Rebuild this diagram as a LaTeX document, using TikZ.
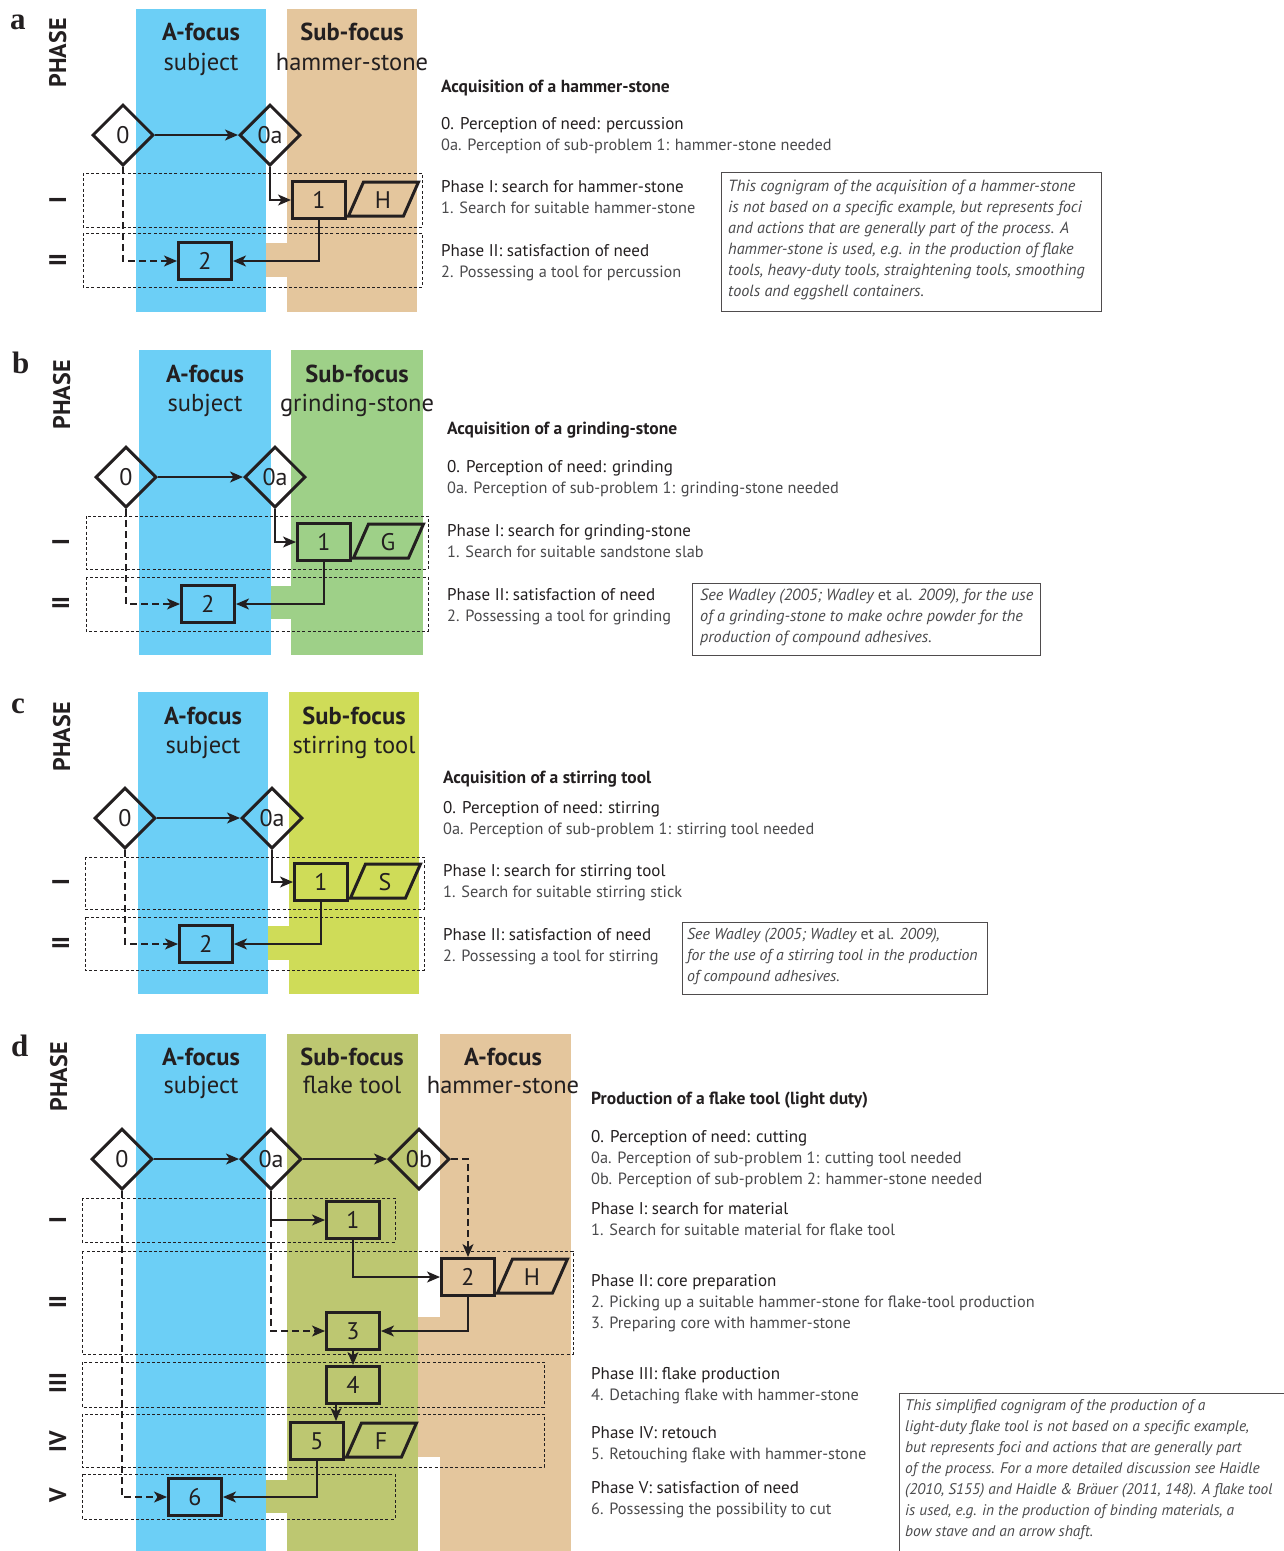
\documentclass[tikz,border=0pt]{standalone}
\usepackage{fontspec}
\setmainfont{PT Sans}
\newfontfamily\lettfont{Liberation Serif}
\usetikzlibrary{shapes.geometric,arrows.meta,calc}

\definecolor{ink}{HTML}{231F20}
\definecolor{cblue}{HTML}{6CCFF6}
\definecolor{ctan}{HTML}{E4C69D}
\definecolor{cgreen}{HTML}{9ED088}
\definecolor{cyellow}{HTML}{CFDC58}
\definecolor{colive}{HTML}{BDC771}
\definecolor{txtgray}{HTML}{4A4A4C}

\tikzset{
  stepbox/.style={draw=ink, line width=3pt, rectangle, minimum width=53pt, minimum height=37pt,
    inner sep=0pt, font=\fontsize{24}{24}\selectfont, text=ink},
  decis/.style={draw=ink, line width=3pt, diamond, minimum width=61pt, minimum height=61pt,
    inner sep=0pt, font=\fontsize{24}{24}\selectfont, text=ink},
  conn/.style={draw=ink, line width=1.6pt, -{Stealth[length=13pt,width=11pt,inset=3.5pt]}},
  dconn/.style={conn, dash pattern=on 7pt off 4pt},
  phasebox/.style={draw=ink, line width=1pt, dash pattern=on 3pt off 2.2pt},
  paraline/.style={draw=ink, line width=3pt},
  paratext/.style={inner sep=0pt, font=\fontsize{24}{24}\selectfont, text=ink},
  ttl/.style={anchor=base west, inner sep=0pt, font=\fontsize{17.5}{21}\selectfont\bfseries, text=ink},
  phl/.style={anchor=base west, inner sep=0pt, font=\fontsize{17}{21}\selectfont, text=ink},
  dtl/.style={anchor=base west, inner sep=0pt, font=\fontsize{16.3}{21}\selectfont, text=txtgray},
  hdb/.style={anchor=base, inner sep=0pt, font=\fontsize{24.5}{24}\selectfont\bfseries, text=ink},
  hdr/.style={anchor=base, inner sep=0pt, font=\fontsize{24.5}{24}\selectfont, text=ink},
  phase/.style={rotate=90, anchor=base, inner sep=0pt, font=\fontsize{24}{24}\selectfont\bfseries, text=ink},
  plabel/.style={anchor=base west, inner sep=0pt, font=\lettfont\bfseries\fontsize{31}{31}\selectfont, text=ink},
  notetext/.style={anchor=north west, inner sep=0pt, align=left,
    font=\fontsize{16.2}{21}\selectfont\itshape, text=txtgray},
  noteframe/.style={draw=ink!80, line width=1pt},
}

% a parallelogram tag attached to the right side of a step box
\newcommand\tagshape[4]{%
  \draw[paraline, fill=#4] ($(#1.east)+(1.5,16)$) -- ++(15,-34) -- ++(55,0) -- ++(-15,34) -- cycle;
  \node[paratext] (#2) at ($(#1.east)+(36,0)$) {#3};}

\begin{document}
\begin{tikzpicture}[x=1pt,y=-1pt]
\clip (0,0) rectangle (1284,1551);
\fill[white] (0,0) rectangle (1284,1551);

% ================= panel a =================
\fill[cblue] (136,9) rectangle (266,312);
\fill[ctan] (287,9) rectangle (417,312);
\fill[ctan] (265.5,243) rectangle (287.5,277);
\node[plabel] (la) at (10,29) {a};
\node[phase] (pa) at (66,53) {PHASE};
\node[phase] (pa1) at (66,200) {I};
\node[phase] (pa2) at (66,260) {II};
\node[hdb] (ha1) at (201,40) {A-focus};
\node[hdr] (ha2) at (201,70) {subject};
\node[hdb] (ha3) at (352,40) {Sub-focus};
\node[hdr] (ha4) at (352,70) {hammer-stone};
\draw[phasebox] (83,173) rectangle (422,227);
\draw[phasebox] (83,233) rectangle (422,287);
\node[decis] (a0) at (123,135) {0};
\node[decis] (a0a) at (270,135) {0a};
\node[stepbox, fill=ctan] (a1) at (319,200) {1};
\node[stepbox, fill=cblue] (a2) at (205,261) {2};
\tagshape{a1}{aH}{H}{ctan}
\draw[conn] (a0.east) -- (a0a.west);
\draw[conn] (a0a.south) |- (a1.west);
\draw[conn] (a1.south) |- (a2.east);
\draw[dconn] (a0.south) |- (a2.west);

\node[ttl] (ta0) at (441,92.5) {Acquisition of a hammer-stone};
\node[phl] (ta1) at (441,129.5) {0. Perception of need: percussion};
\node[dtl] (ta2) at (441,150.5) {0a. Perception of sub-problem 1: hammer-stone needed};
\node[phl] (ta3) at (441,192.5) {Phase I: search for hammer-stone};
\node[dtl] (ta4) at (441,213.5) {1. Search for suitable hammer-stone};
\node[phl] (ta5) at (441,256.5) {Phase II: satisfaction of need};
\node[dtl] (ta6) at (441,277.5) {2. Possessing a tool for percussion};
\draw[noteframe] (721,172) rectangle (1101,311);
\node[notetext] (na) at (728,180) {This cognigram of the acquisition of a hammer-stone\\
is not based on a specific example, but represents foci\\
and actions that are generally part of the process. A\\
hammer-stone is used, e.g. in the production of flake\\
tools, heavy-duty tools, straightening tools, smoothing\\
tools and eggshell containers.};

% ================= panel b =================
\fill[cblue] (139,350) rectangle (271,655);
\fill[cgreen] (291,350) rectangle (423,655);
\fill[cgreen] (270.5,586) rectangle (291.5,619);
\node[plabel] (lb) at (12,373) {b};
\node[phase] (pb) at (70,395) {PHASE};
\node[phase] (pb1) at (69,542) {I};
\node[phase] (pb2) at (69,603) {II};
\node[hdb] (hb1) at (205,382) {A-focus};
\node[hdr] (hb2) at (205,411) {subject};
\node[hdb] (hb3) at (357,382) {Sub-focus};
\node[hdr] (hb4) at (357,411) {grinding-stone};
\draw[phasebox] (86,516) rectangle (428,569);
\draw[phasebox] (86,577) rectangle (428,631);
\node[decis] (b0) at (126,477) {0};
\node[decis] (b0a) at (275,477) {0a};
\node[stepbox, fill=cgreen] (b1) at (324,542) {1};
\node[stepbox, fill=cblue] (b2) at (208,604) {2};
\tagshape{b1}{bG}{G}{cgreen}
\draw[conn] (b0.east) -- (b0a.west);
\draw[conn] (b0a.south) |- (b1.west);
\draw[conn] (b1.south) |- (b2.east);
\draw[dconn] (b0.south) |- (b2.west);

\node[ttl] (tb0) at (447,434.5) {Acquisition of a grinding-stone};
\node[phl] (tb1) at (447,472.5) {0. Perception of need: grinding};
\node[dtl] (tb2) at (447,493.5) {0a. Perception of sub-problem 1: grinding-stone needed};
\node[phl] (tb3) at (447,536.5) {Phase I: search for grinding-stone};
\node[dtl] (tb4) at (447,557.5) {1. Search for suitable sandstone slab};
\node[phl] (tb5) at (447,600.5) {Phase II: satisfaction of need};
\node[dtl] (tb6) at (447,621.5) {2. Possessing a tool for grinding};
\draw[noteframe] (692,583) rectangle (1040,655);
\node[notetext] (nb) at (700,589) {See Wadley (2005; Wadley {\upshape et al.} 2009), for the use\\
of a grinding-stone to make ochre powder for the\\
production of compound adhesives.};

% ================= panel c =================
\fill[cblue] (138,692) rectangle (268,994);
\fill[cyellow] (289,692) rectangle (419,994);
\fill[cyellow] (267.5,926) rectangle (289.5,960);
\node[plabel] (lc) at (11,713) {c};
\node[phase] (pc) at (70,737) {PHASE};
\node[phase] (pc1) at (69,882) {I};
\node[phase] (pc2) at (69,943) {II};
\node[hdb] (hc1) at (203,724) {A-focus};
\node[hdr] (hc2) at (203,753) {subject};
\node[hdb] (hc3) at (354,724) {Sub-focus};
\node[hdr] (hc4) at (354,753) {stirring tool};
\draw[phasebox] (85,857) rectangle (424,909);
\draw[phasebox] (85,917) rectangle (424,970);
\node[decis] (c0) at (125,818) {0};
\node[decis] (c0a) at (272,818) {0a};
\node[stepbox, fill=cyellow] (c1) at (321,882) {1};
\node[stepbox, fill=cblue] (c2) at (206,944) {2};
\tagshape{c1}{cS}{S}{cyellow}
\draw[conn] (c0.east) -- (c0a.west);
\draw[conn] (c0a.south) |- (c1.west);
\draw[conn] (c1.south) |- (c2.east);
\draw[dconn] (c0.south) |- (c2.west);

\node[ttl] (tc0) at (443,783.5) {Acquisition of a stirring tool};
\node[phl] (tc1) at (443,813.5) {0. Perception of need: stirring};
\node[dtl] (tc2) at (443,834.5) {0a. Perception of sub-problem 1: stirring tool needed};
\node[phl] (tc3) at (443,876.5) {Phase I: search for stirring tool};
\node[dtl] (tc4) at (443,897.5) {1. Search for suitable stirring stick};
\node[phl] (tc5) at (443,940.5) {Phase II: satisfaction of need};
\node[dtl] (tc6) at (443,961.5) {2. Possessing a tool for stirring};
\draw[noteframe] (682,922) rectangle (987,994);
\node[notetext, font=\fontsize{15.8}{21}\selectfont\itshape] (nc) at (687,928) {See Wadley (2005; Wadley {\upshape et al.} 2009),\\
for the use of a stirring tool in the production\\
of compound adhesives.};

% ================= panel d =================
\fill[cblue] (136,1034) rectangle (266,1560);
\fill[colive] (287,1034) rectangle (418,1560);
\fill[ctan] (440,1034) rectangle (571,1560);
\fill[colive] (265.5,1480) rectangle (287.5,1513);
\fill[ctan] (417.5,1317) rectangle (440.5,1457);
\node[plabel] (ld) at (11,1056) {d};
\node[phase] (pd) at (67,1077) {PHASE};
\node[phase] (pd1) at (66,1220) {I};
\node[phase] (pd2) at (66,1302) {II};
\node[phase] (pd3) at (66,1383) {III};
\node[phase] (pd4) at (66,1442) {IV};
\node[phase] (pd5) at (66,1495) {V};
\node[hdb] (hd1) at (201,1065) {A-focus};
\node[hdr] (hd2) at (201,1093) {subject};
\node[hdb] (hd3) at (352,1065) {Sub-focus};
\node[hdr] (hd4) at (352,1093) {flake tool};
\node[hdb] (hd5) at (503,1065) {A-focus};
\node[hdr] (hd6) at (503,1093) {hammer-stone};
\draw[phasebox] (82,1198) rectangle (395,1242);
\draw[phasebox] (82,1251) rectangle (573,1354);
\draw[phasebox] (82,1362) rectangle (544,1407);
\draw[phasebox] (82,1414) rectangle (544,1467);
\draw[phasebox] (82,1474) rectangle (395,1519);
\node[decis] (d0) at (122,1159) {0};
\node[decis] (d0a) at (271,1159) {0a};
\node[decis] (d0b) at (419,1159) {0b};
\node[stepbox, fill=colive] (d1) at (353,1220) {1};
\node[stepbox, fill=ctan] (d2) at (468,1277) {2};
\node[stepbox, fill=colive] (d3) at (353,1331) {3};
\node[stepbox, fill=colive] (d4) at (353,1385) {4};
\node[stepbox, fill=colive] (d5) at (317,1441) {5};
\node[stepbox, fill=cblue] (d6) at (195,1497) {6};
\tagshape{d2}{dH}{H}{ctan}
\tagshape{d5}{dF}{F}{colive}
\draw[conn] (d0.east) -- (d0a.west);
\draw[conn] (d0a.east) -- (d0b.west);
\draw[dconn] (d0b.east) -| (d2.north);
\draw[conn] (d0a.south) |- (d1.west);
\draw[dconn] (d0a.south |- d1.west) |- (d3.west);
\draw[conn] (d1.south) |- (d2.west);
\draw[conn] (d2.south) |- (d3.east);
\draw[conn] (d3.south) -- (d4.north);
\draw[conn] ([xshift=-17pt]d4.south) -- ([xshift=-17pt]d4.south |- d5.north);
\draw[conn] (d5.south) |- (d6.east);
\draw[dconn] (d0.south) |- (d6.west);

\node[ttl] (td0) at (591,1104.5) {Production of a flake tool (light duty)};
\node[phl] (td1) at (591,1142.5) {0. Perception of need: cutting};
\node[dtl] (td2) at (591,1163.5) {0a. Perception of sub-problem 1: cutting tool needed};
\node[dtl] (td3) at (591,1184.5) {0b. Perception of sub-problem 2: hammer-stone needed};
\node[phl] (td4) at (591,1214.5) {Phase I: search for material};
\node[dtl] (td5) at (591,1235.5) {1. Search for suitable material for flake tool};
\node[phl] (td6) at (591,1286.5) {Phase II: core preparation};
\node[dtl] (td7) at (591,1307.5) {2. Picking up a suitable hammer-stone for flake-tool production};
\node[dtl] (td8) at (591,1328.5) {3. Preparing core with hammer-stone};
\node[phl] (td9) at (591,1379.5) {Phase III: flake production};
\node[dtl] (td10) at (591,1400.5) {4. Detaching flake with hammer-stone};
\node[phl] (td11) at (591,1438.5) {Phase IV: retouch};
\node[dtl] (td12) at (591,1459.5) {5. Retouching flake with hammer-stone};
\node[phl] (td13) at (591,1493.5) {Phase V: satisfaction of need};
\node[dtl] (td14) at (591,1514.5) {6. Possessing the possibility to cut};
\draw[noteframe] (899,1393) rectangle (1300,1570);
\node[notetext, font=\fontsize{15.4}{21}\selectfont\itshape] (nd) at (905,1399) {This simplified cognigram of the production of a\\
light-duty flake tool is not based on a specific example,\\
but represents foci and actions that are generally part\\
of the process. For a more detailed discussion see Haidle\\
(2010, S155) and Haidle \& Bräuer (2011, 148). A flake tool\\
is used, e.g. in the production of binding materials, a\\
bow stave and an arrow shaft.};
\end{tikzpicture}
\end{document}
